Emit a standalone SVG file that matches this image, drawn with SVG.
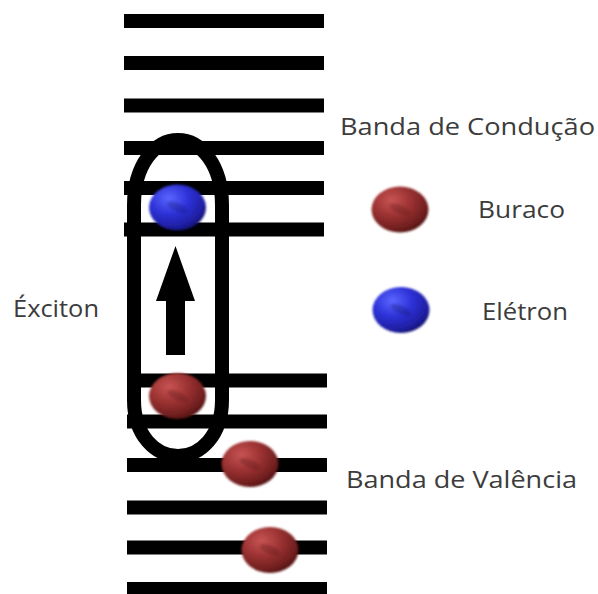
<svg xmlns="http://www.w3.org/2000/svg" width="598" height="594" viewBox="0 0 598 594">
  <style>
    .level { fill: #000; }
    .label { font-family: "Open Sans", "Noto Sans", "Liberation Sans", sans-serif; font-size: 24px; fill: #3c3c3c; }
    .loop { fill: none; stroke: #000; stroke-width: 14; }
  </style>
  <defs>
    <radialGradient id="holeFill" cx="0.35" cy="0.3" r="0.75">
      <stop offset="0" stop-color="#c85454"/>
      <stop offset="0.45" stop-color="#9c3232"/>
      <stop offset="0.85" stop-color="#6e1e1e"/>
      <stop offset="1" stop-color="#4e1010"/>
    </radialGradient>
    <radialGradient id="electronFill" cx="0.35" cy="0.3" r="0.75">
      <stop offset="0" stop-color="#5a66ff"/>
      <stop offset="0.45" stop-color="#2e32d8"/>
      <stop offset="0.85" stop-color="#1e1ea0"/>
      <stop offset="1" stop-color="#10106a"/>
    </radialGradient>
    <filter id="soft" x="-20%" y="-20%" width="140%" height="140%">
      <feGaussianBlur stdDeviation="0.8"/>
    </filter>
    <!-- particle shapes: body plus a faint dimple -->
    <g id="hole">
      <ellipse rx="28.5" ry="23" fill="url(#holeFill)" filter="url(#soft)"/>
      <ellipse rx="11" ry="4" transform="rotate(25)" fill="#5a1414" opacity="0.3" filter="url(#soft)"/>
    </g>
    <g id="electron">
      <ellipse rx="28.5" ry="23" fill="url(#electronFill)" filter="url(#soft)"/>
      <ellipse rx="11" ry="4" transform="rotate(25)" fill="#14146e" opacity="0.3" filter="url(#soft)"/>
    </g>
  </defs>

  <rect width="598" height="594" fill="#fff"/>

  <!-- conduction band levels -->
  <g id="conduction-band">
    <rect class="level" x="124" y="14" width="200" height="14"/>
    <rect class="level" x="124" y="56" width="200" height="14"/>
    <rect class="level" x="124" y="98.5" width="200" height="14"/>
    <rect class="level" x="124" y="141" width="200" height="14"/>
    <rect class="level" x="124" y="181" width="200" height="14"/>
    <rect class="level" x="124" y="222.5" width="200" height="14"/>
  </g>

  <!-- valence band levels -->
  <g id="valence-band">
    <rect class="level" x="127" y="373.5" width="200" height="14"/>
    <rect class="level" x="127" y="414.5" width="200" height="14"/>
    <rect class="level" x="127" y="458" width="200" height="14"/>
    <rect class="level" x="127" y="500.5" width="200" height="14"/>
    <rect class="level" x="127" y="540.5" width="200" height="14"/>
    <rect class="level" x="127" y="582" width="200" height="14"/>
  </g>

  <!-- exciton loop and excitation arrow -->
  <g id="exciton">
    <path class="loop" d="M134,205 C134,165 155,140 178,140 C201,140 222,165 222,205 L222,400 C222,436 200,456 178,456 C156,456 134,436 134,400 Z"/>
    <polygon fill="#000" points="175.5,246 195,301 185,301 185,355 166,355 166,301 156,301"/>
  </g>

  <!-- particles in the bands -->
  <g id="electron-excited"><use href="#electron" x="177.5" y="207.5"/></g>
  <g id="hole-bound"><use href="#hole" x="177.5" y="396"/></g>
  <g id="hole-2"><use href="#hole" x="250" y="464"/></g>
  <g id="hole-3"><use href="#hole" x="270" y="550"/></g>

  <!-- legend -->
  <g id="legend-hole"><use href="#hole" x="400" y="209.5"/></g>
  <g id="legend-electron"><use href="#electron" x="401" y="310"/></g>

  <g id="labels">
    <text class="label" x="340" y="135" textLength="255" lengthAdjust="spacingAndGlyphs">Banda de Condução</text>
    <text class="label" x="478" y="218" textLength="87" lengthAdjust="spacingAndGlyphs">Buraco</text>
    <text class="label" x="482" y="320" textLength="86" lengthAdjust="spacingAndGlyphs">Elétron</text>
    <text class="label" x="13" y="317" textLength="86" lengthAdjust="spacingAndGlyphs">Éxciton</text>
    <text class="label" x="346" y="488" textLength="231" lengthAdjust="spacingAndGlyphs">Banda de Valência</text>
  </g>
</svg>
